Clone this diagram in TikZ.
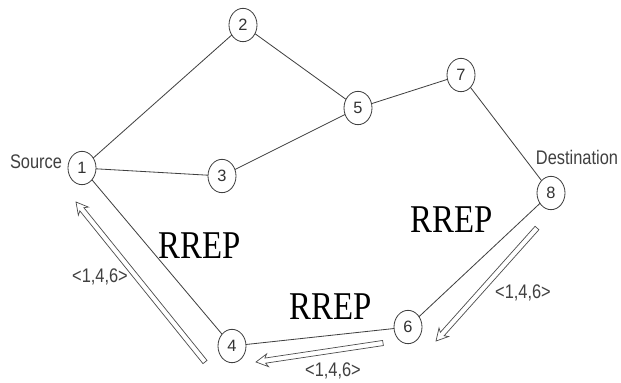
\documentclass[tikz,border=0pt]{standalone}
\usepackage{fontspec}
\setmainfont{Liberation Serif}
\setsansfont{Liberation Sans}
\usetikzlibrary{shapes.geometric,calc}
\tikzset{
  host/.style={ellipse,draw=black!75,line width=0.7pt,fill=white,
    minimum width=0.84cm,minimum height=1.0cm,inner sep=0pt,
    font=\sffamily\fontsize{14}{14}\selectfont,text=black!80},
  tag/.style={font=\sffamily\fontsize{14}{14}\selectfont,text=black!75,yscale=1.2},
  msg/.style={font=\fontsize{28}{28}\selectfont,yscale=1.2},
  reply/.style={draw=black!70,line width=0.6pt,line join=miter,fill=white},
}
\begin{document}
\begin{tikzpicture}[x=0.03cm,y=-0.03cm]
      \useasboundingbox (0,0) rectangle (621,382);
      \begin{scope}[draw=black!75,line width=0.7pt]
        \draw (82,168) to (243,25);
        \draw (82,168) to (222,176);
        \draw (82,168) to (232,346);
        \draw (243,25) to (358,108);
        \draw (222,176) to (358,108);
        \draw (358,108) to (461,75);
        \draw (461,75) to (551,193);
        \draw (551,193) to (408,327);
        \draw (408,327) to (232,346);
      \end{scope}
      \draw[every node/.style=host]
        (82,168) node (1){1}
        (243,25) node (2){2}
        (222,176) node (3){3}
        (232,346) node (4){4}
        (358,108) node (5){5}
        (408,327) node (6){6}
        (461,75) node (7){7}
        (551,193) node (8){8};
      \node[tag] (src) at (36,162) {Source};
      \node[tag] (dst) at (577,157) {Destination};
      % hollow RREP arrows
      \coordinate (l4) at (205,362);
      \coordinate (l1) at (76,202);
      \coordinate (b6) at (383,343);
      \coordinate (b4) at (256,362);
      \coordinate (r8) at (537,228);
      \coordinate (r6) at (436,341);
      \foreach \s/\t in {l4/l1,b6/b4,r8/r6}
        \draw[reply] ($(\s)!2.2pt!90:(\t)$)
          -- ($(\t)!8pt!(\s)!2.2pt!-90:(\s)$)
          -- ($(\t)!10pt!(\s)!5.5pt!-90:(\s)$)
          -- (\t)
          -- ($(\t)!10pt!(\s)!5.5pt!90:(\s)$)
          -- ($(\t)!8pt!(\s)!2.2pt!90:(\s)$)
          -- ($(\s)!2.2pt!-90:(\t)$) -- cycle;
      \node[msg] (m1) at (200,246) {RREP};
      \node[msg] (m2) at (452,220) {RREP};
      \node[msg] (m3) at (331,307) {RREP};
      \node[tag] (p1) at (100,277) {<1,4,6>};
      \node[tag] (p2) at (523,293) {<1,4,6>};
      \node[tag] (p3) at (333,371) {<1,4,6>};
    \end{tikzpicture}
\end{document}
